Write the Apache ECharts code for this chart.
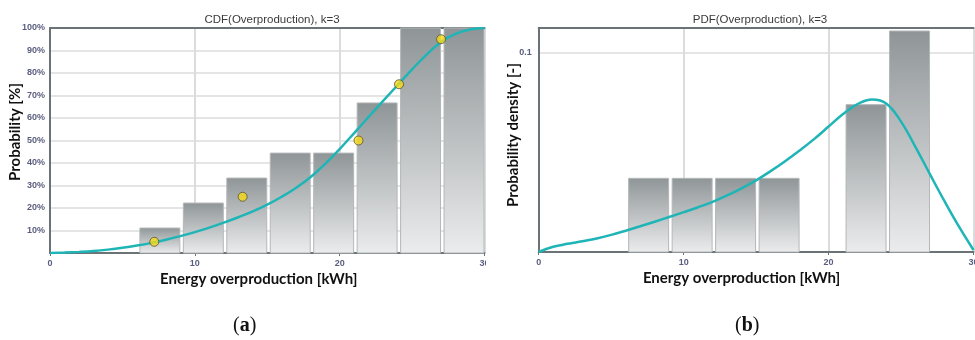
<!DOCTYPE html>
<html>
<head>
<meta charset="utf-8">
<script src="https://cdn.jsdelivr.net/npm/echarts@6/dist/echarts.min.js"></script>
<style>
  html, body { margin: 0; padding: 0; background: #ffffff; }
  body { width: 975px; height: 340px; position: relative; overflow: hidden; }
  #cdf { position: absolute; left: 0; top: 0; width: 486px; height: 340px; }
  #pdf { position: absolute; left: 489px; top: 0; width: 486px; height: 340px; }
</style>
</head>
<body>
<div id="cdf"></div>
<div id="pdf"></div>
<script>
// Histogram bins (kWh)
const binWidth = 3;
const cdfBinStarts = [6, 9, 12, 15, 18, 21, 24, 27];
const cdfBarPct = [11.1, 22.2, 33.3, 44.4, 44.4, 66.7, 100, 100];
const pdfBinStarts = [6, 9, 12, 15, 21, 24];
const pdfBarDensity = [0.037, 0.037, 0.037, 0.037, 0.074, 0.111];

// Fitted curves sampled every 1 kWh
const curveX = [0, 1, 2, 3, 4, 5, 6, 7, 8, 9, 10, 11, 12, 13, 14, 15, 16, 17, 18, 19, 20, 21, 22, 23, 24, 25, 26, 27, 28, 29, 30];
const cdfCurvePct = [0, 0.2, 0.5, 0.9, 1.5, 2.3, 3.3, 4.5, 5.9, 7.5, 9.3, 11.3, 13.5, 15.9, 18.5, 21.5, 25.0, 29.0, 33.8, 39.6, 46.2, 53.3, 60.5, 67.6, 74.6, 81.6, 88.2, 93.8, 97.4, 99.3, 100];
const pdfCurve = [0, 0.0026, 0.0041, 0.0054, 0.0068, 0.0086, 0.0107, 0.0129, 0.0152, 0.0176, 0.0200, 0.0225, 0.0252, 0.0284, 0.0320, 0.0360, 0.0406, 0.0456, 0.0510, 0.0567, 0.0630, 0.0693, 0.0743, 0.0766, 0.0745, 0.0655, 0.0527, 0.0390, 0.0255, 0.0127, 0.0010];

// Empirical quantile markers
const quantileX = [7.2, 13.3, 21.3, 24.1, 27.0];
const quantilePct = [5, 25, 50, 75, 95];

const AXIS_DARK = '#6b7377';
const LABEL_COLOR = '#5a5e7e';
const GRID_COLOR = '#dcdcdc';
const CURVE_COLOR = '#1fb5b6';
const NAME_FONT = 'Lato';

function barItems(starts, values) {
  return starts.map((s, i) => [s, s + binWidth, values[i]]);
}

function renderBar(params, api) {
  const x0 = api.value(0), x1 = api.value(1), h = api.value(2);
  const pTop = api.coord([x0, h]);
  const pBot = api.coord([x1, 0]);
  const left = pTop[0] + 3;
  const width = pBot[0] - pTop[0] - 3.5;
  return {
    type: 'rect',
    shape: { x: left, y: pTop[1], width: width, height: pBot[1] - pTop[1] },
    style: {
      fill: {
        type: 'linear', x: 0, y: 0, x2: 0, y2: 1,
        colorStops: [
          { offset: 0, color: '#8f9597' },
          { offset: 1, color: '#ebeced' }
        ]
      },
      stroke: '#b4b7b9',
      lineWidth: 1
    }
  };
}

function xAxes(nameShift) {
  return [{
    type: 'value', min: 0, max: 30, interval: 10,
    name: 'Energy overproduction [kWh]',
    nameLocation: 'middle', nameGap: 19, nameMoveOverlap: false,
    nameTextStyle: { fontFamily: NAME_FONT, fontWeight: 'bold', fontSize: 15, color: '#111', padding: [0, nameShift, 0, 0] },
    axisLine: { lineStyle: { color: AXIS_DARK, width: 2 } },
    axisTick: { show: true, length: 3, lineStyle: { color: AXIS_DARK } },
    axisLabel: { color: LABEL_COLOR, fontSize: 9, fontWeight: 'bold', fontFamily: 'Liberation Sans', margin: 6 },
    splitLine: { show: true, lineStyle: { color: GRID_COLOR, width: 2 } }
  }, {
    type: 'value', min: 0, max: 30, position: 'top',
    axisLine: { show: true, onZero: false, lineStyle: { color: AXIS_DARK, width: 2 } },
    axisTick: { show: false }, axisLabel: { show: false }, splitLine: { show: false }
  }];
}

function caption(x, letter) {
  return {
    type: 'text', left: x, top: 316,
    style: {
      text: '{p|(}{l|' + letter + '}{p|)}',
      rich: {
        p: { fontFamily: 'Liberation Serif', fontSize: 20, fill: '#111' },
        l: { fontFamily: 'Liberation Serif', fontSize: 20, fontWeight: 'bold', fill: '#111' }
      }
    }
  };
}

// CDF chart
const cdfChart = echarts.init(document.getElementById('cdf'), null, { renderer: 'canvas' });
cdfChart.setOption({
  animation: false,
  title: {
    text: 'CDF(Overproduction), k=3', left: 267, top: 9, textAlign: 'center',
    textStyle: { fontFamily: 'Liberation Sans', fontSize: 11.5, fontWeight: 'normal', color: '#3a3a3a' }
  },
  grid: { left: 50, right: 1.5, top: 28, bottom: 87, containLabel: false, outerBoundsMode: 'none' },
  xAxis: xAxes(17),
  yAxis: {
    type: 'value', min: 0, max: 100, interval: 10,
    name: 'Probability [%]', nameLocation: 'middle', nameGap: 27, nameMoveOverlap: false,
    nameTextStyle: { fontFamily: NAME_FONT, fontWeight: 'bold', fontSize: 15, color: '#111', padding: [0, 0, 0, 17] },
    axisLine: { show: true, lineStyle: { color: AXIS_DARK, width: 2 } },
    axisTick: { show: false },
    axisLabel: { color: LABEL_COLOR, fontSize: 9, fontWeight: 'bold', fontFamily: 'Liberation Sans', margin: 5, showMinLabel: false, formatter: '{value}%' },
    splitLine: { show: true, lineStyle: { color: GRID_COLOR, width: 1.5 } }
  },
  graphic: [caption(233, 'a')],
  series: [{
    type: 'custom', renderItem: renderBar, data: barItems(cdfBinStarts, cdfBarPct), z: 2
  }, {
    type: 'line', smooth: 0.4, showSymbol: false, z: 3,
    data: curveX.map((x, i) => [x, cdfCurvePct[i]]),
    lineStyle: { color: CURVE_COLOR, width: 2.5 }
  }, {
    type: 'scatter', z: 4, symbolSize: 9,
    data: quantileX.map((x, i) => [x, quantilePct[i]]),
    itemStyle: { color: '#f6da16', borderColor: '#55533a', borderWidth: 1 }
  }]
});

// PDF chart
const pdfChart = echarts.init(document.getElementById('pdf'), null, { renderer: 'canvas' });
pdfChart.setOption({
  animation: false,
  title: {
    text: 'PDF(Overproduction), k=3', left: 266, top: 9, textAlign: 'center',
    textStyle: { fontFamily: 'Liberation Sans', fontSize: 11.5, fontWeight: 'normal', color: '#3a3a3a' }
  },
  grid: { left: 49.7, right: 1.5, top: 28, bottom: 88, containLabel: false, outerBoundsMode: 'none' },
  xAxis: xAxes(29),
  yAxis: {
    type: 'value', min: 0, max: 0.1125, interval: 0.1,
    name: 'Probability density [-]', nameLocation: 'middle', nameGap: 18, nameMoveOverlap: false,
    nameTextStyle: { fontFamily: NAME_FONT, fontWeight: 'bold', fontSize: 15, color: '#111', padding: [0, 0, 0, 10] },
    axisLine: { show: true, lineStyle: { color: AXIS_DARK, width: 2 } },
    axisTick: { show: false },
    axisLabel: {
      color: LABEL_COLOR, fontSize: 9, fontWeight: 'bold', fontFamily: 'Liberation Sans', margin: 7,
      showMinLabel: false, showMaxLabel: false,
      formatter: v => (Math.abs(v - 0.1) < 1e-9 ? '0.1' : '')
    },
    splitLine: { show: true, lineStyle: { color: GRID_COLOR, width: 1.5 } }
  },
  graphic: [caption(246, 'b')],
  series: [{
    type: 'custom', renderItem: renderBar, data: barItems(pdfBinStarts, pdfBarDensity), z: 2
  }, {
    type: 'line', smooth: 0.4, showSymbol: false, z: 3,
    data: curveX.map((x, i) => [x, pdfCurve[i]]),
    lineStyle: { color: CURVE_COLOR, width: 2.5 }
  }]
});
</script>
</body>
</html>
